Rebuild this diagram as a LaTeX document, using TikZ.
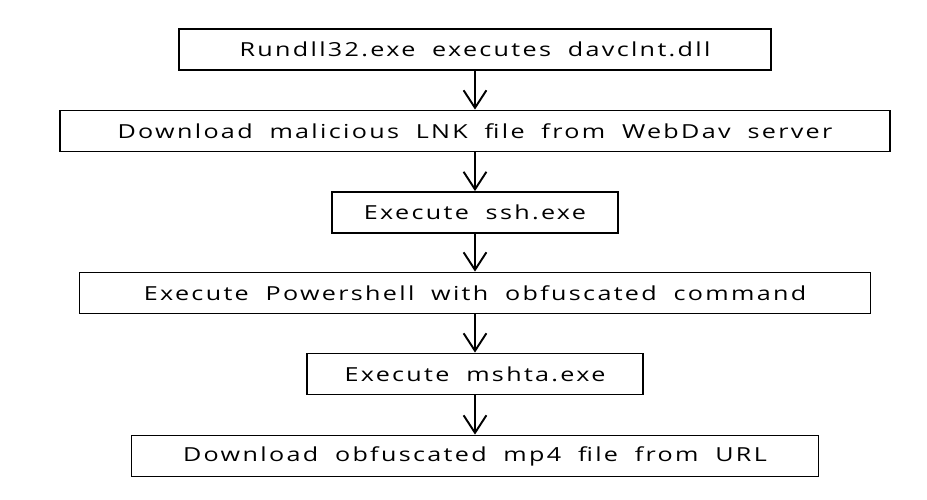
\documentclass[tikz,border=0pt]{standalone}
\usepackage{fontspec}
\setmainfont{Open Sans}[FakeStretch=1.3,LetterSpace=12,WordSpace=1.9]
\usetikzlibrary{arrows.meta}
\begin{document}
\begin{tikzpicture}[>={Straight Barb[length=10pt,width=13pt]},x=0.02cm,y=-0.02cm,
	buoc/.style={draw,line width=1pt,minimum height=0.82cm,inner sep=0pt,font=\fontsize{11}{13}\selectfont},
	muiten/.style={->,line width=1.1pt}]
			\useasboundingbox (0,0) rectangle (927,500); % Khung hình 927x500
			\node[buoc,minimum width=11.84cm] (rundll) at (475,49.5) {Rundll32.exe executes davclnt.dll};
			\node[buoc,minimum width=16.6cm] (lnk) at (475,131) {Download malicious LNK file from WebDav server};
			\node[buoc,minimum width=5.72cm] (ssh) at (475,212.5) {Execute ssh.exe};
			\node[buoc,minimum width=15.82cm] (pwsh) at (475,293) {Execute Powershell with obfuscated command};
			\node[buoc,minimum width=6.72cm] (mshta) at (475,374) {Execute mshta.exe};
			\node[buoc,minimum width=13.74cm] (mp4) at (475,456) {Download obfuscated mp4 file from URL};
			\draw[muiten] (rundll) -- (lnk); % Mũi tên giữa các bước
			\draw[muiten] (lnk) -- (ssh);
			\draw[muiten] (ssh) -- (pwsh);
			\draw[muiten] (pwsh) -- (mshta);
			\draw[muiten] (mshta) -- (mp4);
\end{tikzpicture}
\end{document}
